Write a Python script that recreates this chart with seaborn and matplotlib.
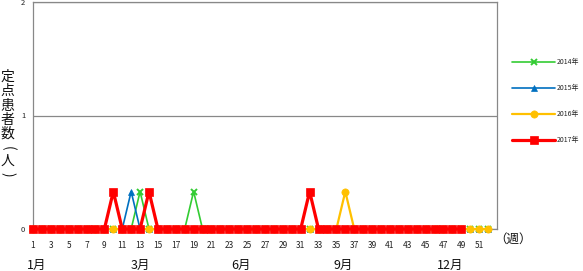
import matplotlib
matplotlib.use("Agg")
import matplotlib.pyplot as plt
import matplotlib.transforms as mtransforms
import seaborn as sns
import pandas as pd

sns.set_theme(style="white")
plt.rcParams['font.family'] = ['Noto Sans CJK JP', 'DejaVu Sans']

weeks = list(range(1, 53))
y2014 = [0, 0, 0, 0, 0, 0, 0, 0, 0, 0, 0, 0, 0.33, 0, 0, 0, 0, 0, 0.33, 0,
         0, 0, 0, 0, 0, 0, 0, 0, 0, 0, 0, 0, 0, 0, 0, 0, 0, 0, 0, 0,
         0, 0, 0, 0, 0, 0, 0, 0, 0, 0, 0, 0]
y2015 = [0, 0, 0, 0, 0, 0, 0, 0, 0, 0, 0, 0.33, 0, 0, 0, 0, 0, 0, 0, 0,
         0, 0, 0, 0, 0, 0, 0, 0, 0, 0, 0, 0, 0, 0, 0, 0, 0, 0, 0, 0,
         0, 0, 0, 0, 0, 0, 0, 0, 0, 0, 0, 0]
y2016 = [0, 0, 0, 0, 0, 0, 0, 0, 0, 0, 0, 0, 0, 0, 0, 0, 0, 0, 0, 0,
         0, 0, 0, 0, 0, 0, 0, 0, 0, 0, 0, 0, 0, 0, 0, 0.33, 0, 0, 0, 0,
         0, 0, 0, 0, 0, 0, 0, 0, 0, 0, 0, 0]
y2017 = [0, 0, 0, 0, 0, 0, 0, 0, 0, 0.33, 0, 0, 0, 0.33, 0, 0, 0, 0, 0, 0,
         0, 0, 0, 0, 0, 0, 0, 0, 0, 0, 0, 0.33, 0, 0, 0, 0, 0, 0, 0, 0,
         0, 0, 0, 0, 0, 0, 0, 0, 0]
series_names = ["2014年", "2015年", "2016年", "2017年"]
series_values = [y2014, y2015, y2016, y2017]
month_labels = ["1月", "3月", "6月", "9月", "12月"]
month_weeks = [1.4, 13.0, 24.3, 35.8, 47.7]
x_tick_labels = list(range(1, 52, 2))
y_ticks = [0, 1, 2]
ylabel_chars = ["定", "点", "患", "者", "数", "(", "人", ")"]

styles = {
    "2014年": dict(color="#33CC33", marker="x", lw=1.2, ms=4, mew=1.4),
    "2015年": dict(color="#0070C0", marker="^", lw=1.2, ms=4, mew=0.5),
    "2016年": dict(color="#FFC000", marker="o", lw=1.6, ms=5.2, mew=0.5),
    "2017年": dict(color="#FF0000", marker="s", lw=2.3, ms=6, mew=0.5),
}

fig = plt.figure(figsize=(5.83, 2.71), dpi=100)
ax = fig.add_axes([33/583, 1-229/271, (497-33)/583, (229-2)/271])

for name, vals in zip(series_names, series_values):
    st = styles[name]
    df = pd.DataFrame({"week": weeks[:len(vals)], "val": vals})
    sns.lineplot(data=df, x="week", y="val", ax=ax, color=st["color"],
                 marker=st["marker"], linewidth=st["lw"], markersize=st["ms"],
                 markeredgewidth=st["mew"], markeredgecolor=st["color"],
                 label=name, legend=False, clip_on=False, zorder=3)

ax.set_xlim(1, 53)
ax.set_ylim(0, 2)
ax.set_xticks(x_tick_labels)
ax.set_xticklabels([str(v) for v in x_tick_labels], fontsize=6)
ax.set_yticks(y_ticks)
ax.set_yticklabels([str(v) for v in y_ticks], fontsize=5.5)
ax.tick_params(axis='x', length=0, pad=8.5, colors='#222222')
ax.tick_params(axis='y', length=0, pad=5.5, colors='#222222')
ax.set_xlabel("")
ax.set_ylabel("")
ax.yaxis.grid(True, color="#888888", linewidth=0.9)
ax.xaxis.grid(False)
ax.set_axisbelow(True)
for s in ax.spines.values():
    s.set_color("#888888")
    s.set_linewidth(0.9)
    s.set_zorder(1)

trans = mtransforms.blended_transform_factory(ax.transData, fig.transFigure)
for lab, wk in zip(month_labels, month_weeks):
    fig.text(wk, 1-265/271, lab, transform=trans, ha="center", va="center",
             fontsize=9, color="#111111")

fig.text(513/583, 1-239/271, "（週）", ha="center", va="center", fontsize=9, color="#111111")

ylab_y = [77, 91, 106, 120, 134, 148, 161, 174]
for ch, yy in zip(ylabel_chars, ylab_y):
    rot = -90 if ch in "()" else 0
    fig.text(7.5/583, 1-yy/271, ch, ha="center", va="center", fontsize=10,
             rotation=rot, rotation_mode="anchor", color="#111111")

handles, labels = ax.get_legend_handles_labels()
fig.legend(handles, labels, loc="upper left", bbox_to_anchor=(512/583, 1-58/271),
           frameon=False, fontsize=5, handlelength=6.2, handletextpad=0.3,
           labelspacing=2.6, borderpad=0, borderaxespad=0)

fig.savefig("out.png", dpi=100, facecolor="white")
